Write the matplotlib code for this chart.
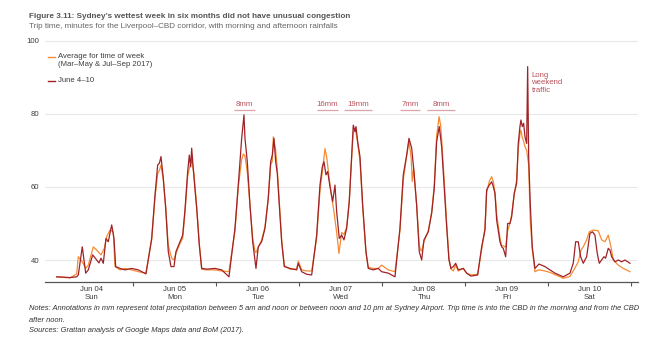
import matplotlib
matplotlib.use("Agg")
import matplotlib.pyplot as plt
from matplotlib.lines import Line2D

plt.rcParams['font.family'] = ['Liberation Sans', 'DejaVu Sans']

# ---- data: hours since Sun Jun 4 00:00, trip time in minutes ----
june_hours = [1.79, 5.64, 7.58, 8.04, 9.19, 10.18, 10.93, 12.2, 13.36, 14.02, 14.6, 15.27, 16.05, 16.71, 17.7, 18.36, 18.85,
              20.1, 21.54, 23.48, 25.39, 27.6,
              29.26, 30.22, 31.0, 31.5, 31.95, 32.62, 33.31, 34.06, 34.84, 35.71, 36.29, 37.45, 38.23, 38.89, 39.67, 40.14,
              40.54, 40.83, 41.5, 42.28, 43.03, 43.72, 45.17, 47.57, 49.5, 51.61,
              53.35, 54.3, 55.29, 55.95, 56.24, 56.91, 57.69, 58.47, 59.42, 60.09, 61.07, 62.03, 62.98, 63.67, 64.14, 64.63,
              65.12, 65.58, 66.16, 66.85, 67.61, 69.25, 71.19, 71.66, 72.64, 74.08, 75.53,
              76.97, 77.93, 78.6, 79.09, 79.66, 80.16, 80.82, 81.6, 82.27, 82.76, 83.51, 84.2, 84.87, 85.65, 86.4, 87.1, 87.56,
              88.05, 88.34, 88.83, 89.5, 90.28, 91.23, 91.9, 93.34, 94.79, 95.77, 97.68, 99.62,
              101.06, 102.02, 103.0, 103.67, 104.45, 105.11, 105.89, 106.64, 107.34, 108.0, 109.25, 110.23, 110.98, 111.67,
              112.43, 113.12, 113.78, 114.57, 115.23, 115.81, 116.48, 117.17, 117.92, 119.37, 120.35, 121.6, 123.53,
              124.69, 125.64, 126.13, 126.89, 127.58, 128.04, 128.54, 129.03, 129.98, 130.47, 130.93, 131.63, 132.21, 132.87,
              133.36, 134.11, 134.81, 135.27, 135.76, 136.05, 136.43, 136.83, 137.21, 137.7, 137.99, 138.28, 138.74, 139.32,
              140.1, 141.26, 142.99, 144.44, 145.88, 148.29,
              150.22, 151.17, 151.87, 152.62, 153.31, 154.07, 155.05, 156.0, 156.79, 157.45, 158.12, 158.7, 159.39, 160.05,
              160.54, 161.3, 161.79, 162.28, 163.24, 164.19, 165.17, 166.13, 167.57]
june_minutes = [35.4, 35.2, 35.4, 35.9, 43.6, 36.4, 37.3, 41.4, 40.0, 39.2, 40.5, 39.1, 45.9, 45.0, 49.6, 45.9, 38.2,
                37.7, 37.3, 37.7, 37.3, 36.2,
                45.9, 57.8, 66.0, 66.5, 68.3, 62.4, 54.2, 42.3, 38.2, 38.2, 42.3, 45.0, 46.8, 53.7, 64.2, 68.7,
                65.5, 70.6, 62.4, 54.1, 44.1, 37.7, 37.5, 37.7, 37.3, 35.4,
                48.7, 60.5, 73.3, 79.7, 73.3, 66.9, 55.0, 45.0, 37.7, 43.6, 45.0, 48.7, 56.9, 66.9, 68.7, 73.3,
                66.9, 63.7, 55.0, 45.0, 38.2, 37.7, 37.3, 39.1, 36.8, 36.1, 35.9,
                46.8, 60.5, 65.5, 66.9, 63.3, 64.2, 60.1, 56.0, 60.5, 53.2, 45.9, 46.8, 45.5, 48.7, 56.0, 68.7, 76.9,
                75.1, 76.5, 72.4, 68.3, 55.0, 42.3, 37.7, 37.3, 37.7, 36.8, 36.4, 35.4,
                48.7, 63.3, 68.7, 73.3, 70.6, 64.2, 55.0, 42.3, 40.0, 45.5, 47.7, 52.8, 59.6, 72.4,
                76.5, 71.0, 61.0, 49.1, 40.0, 37.7, 38.2, 39.1, 37.3, 37.7, 36.4, 35.6, 35.9,
                43.6, 48.2, 59.2, 60.5, 61.4, 60.1, 58.2, 50.9, 45.0, 43.6, 43.2, 40.9, 50.0, 50.0,
                51.8, 58.2, 61.0, 71.9, 76.5, 78.3, 76.5, 77.4, 73.7, 71.9, 92.9, 68.3, 55.5, 43.6,
                37.7, 38.9, 38.2, 37.3, 36.4, 35.4,
                36.4, 39.1, 45.0, 45.0, 40.9, 39.1, 40.9, 47.3, 47.7, 46.8, 41.8, 39.1, 40.0, 40.9,
                40.5, 43.2, 42.7, 40.9, 39.5, 40.0, 39.5, 40.0, 39.1]

avg_hours = [1.79, 5.64, 7.58, 8.04, 9.19, 10.18, 10.93, 12.37, 13.36, 14.6, 15.56, 16.25, 17.2, 18.16, 18.65, 20.1, 21.54,
             23.48, 25.39, 27.6,
             29.26, 30.22, 31.0, 31.5, 31.95, 32.62, 33.31, 34.06, 35.04, 35.71, 36.29, 37.45, 38.23, 38.89, 39.67, 40.14,
             40.54, 40.83, 41.5, 42.28, 43.03, 43.72, 45.17, 47.57, 49.5, 51.61,
             53.35, 54.3, 55.29, 55.76, 56.24, 56.91, 57.69, 58.47, 59.13, 59.42, 60.09, 61.07, 62.03, 62.98, 63.67, 64.14,
             64.43, 65.12, 65.58, 66.16, 66.85, 67.61, 69.25, 71.19, 71.66, 72.64, 74.08, 75.53,
             76.97, 77.93, 78.6, 79.38, 79.9, 80.5, 81.2, 82.0, 82.76, 83.42, 84.2, 84.87, 85.65, 86.4, 87.1, 87.56, 88.05,
             88.34, 88.83, 89.5, 90.28, 91.23, 91.9, 93.34, 94.79, 95.77, 97.68, 99.62,
             101.06, 102.02, 103.0, 103.67, 104.3, 104.6, 105.0, 105.89, 106.64, 107.0, 107.34, 108.0, 109.25, 110.23,
             110.98, 111.67, 112.38, 112.8, 113.12, 113.78, 114.57, 115.23, 115.81, 116.48, 117.17, 117.92, 119.37, 120.35,
             121.6, 123.53,
             124.69, 125.64, 126.13, 126.89, 127.58, 128.04, 128.54, 129.03, 129.98, 130.47, 130.93, 131.63, 132.21, 132.87,
             133.36, 134.11, 134.81, 135.27, 135.76, 136.05, 136.43, 136.83, 137.21, 137.7, 137.99, 138.28, 138.74, 138.99,
             139.32, 140.1, 141.26, 142.99, 144.44, 145.88, 148.29,
             150.22, 151.6, 152.62, 153.4, 154.07, 155.05, 155.8, 156.96, 158.4, 159.39, 160.34, 161.3, 162.08, 162.75,
             164.19, 165.63, 167.57]
avg_minutes = [35.4, 35.1, 36.2, 40.9, 39.5, 37.7, 38.6, 43.6, 42.7, 41.4, 43.2, 46.4, 48.2, 47.7, 38.2, 37.3, 37.7,
               37.3, 36.8, 36.4,
               45.5, 57.0, 63.7, 64.5, 66.0, 62.0, 54.5, 44.0, 40.5, 40.0, 41.9, 44.5, 46.0, 53.0, 63.0, 65.0,
               66.5, 67.5, 63.5, 54.5, 44.5, 37.5, 37.3, 37.3, 37.0, 36.8,
               48.0, 60.0, 67.5, 69.0, 68.5, 64.0, 55.0, 46.0, 42.3, 42.0, 43.5, 45.5, 49.0, 57.0, 66.0, 67.0,
               73.7, 70.0, 65.0, 56.0, 45.5, 38.5, 37.5, 37.5, 39.7, 37.3, 37.0, 37.0,
               46.0, 59.0, 64.0, 70.5, 68.0, 63.0, 58.0, 53.0, 47.5, 41.8, 47.5, 47.0, 49.0, 56.0, 68.0, 75.0, 76.0,
               75.0, 72.0, 67.0, 54.5, 42.0, 38.0, 37.7, 37.7, 38.6, 37.3, 36.8,
               48.0, 62.0, 68.5, 72.5, 68.0, 61.5, 65.0, 55.0, 44.0, 42.7, 42.5, 45.0, 48.0, 53.0,
               60.5, 74.0, 79.2, 77.0, 73.0, 63.0, 50.0, 40.5, 37.5, 37.0, 38.6, 37.0, 37.7, 36.4,
               35.9, 36.1,
               43.0, 48.5, 58.5, 61.5, 62.8, 61.5, 58.5, 52.5, 46.0, 43.9, 43.9, 43.5, 48.0, 50.0,
               52.5, 58.0, 62.0, 70.5, 74.5, 75.5, 73.5, 72.5, 71.0, 70.0, 68.0, 66.0, 50.9, 47.3,
               43.0, 36.8, 37.3, 37.0, 36.6, 36.0, 35.0,
               35.5, 37.7, 39.5, 42.7, 43.6, 45.5, 47.7, 48.2, 48.0, 45.5, 45.0, 46.8, 43.6, 40.0,
               38.6, 37.7, 36.8]

day_labels = ["Jun 04\nSun", "Jun 05\nMon", "Jun 06\nTue", "Jun 07\nWed", "Jun 08\nThu", "Jun 09\nFri", "Jun 10\nSat"]
y_ticks = [40, 60, 80, 100]

rain_labels = ["8mm", "16mm", "19mm", "7mm", "8mm"]
rain_start = [53, 77, 85, 101, 109]
rain_end = [59, 83, 93, 107, 117]

ORANGE = "#F68B33"
RED = "#A02226"
ANN = "#B8525C"
ANN_LINE = "#DDA3AA"
GRID = "#E8E8E8"
TXT = "#3C3C3C"

fig = plt.figure(figsize=(6.6, 3.51), dpi=100)
ax = fig.add_axes([45 / 660, 1 - 282.3 / 351, (638 - 45) / 660, (282.3 - 39.6) / 351])

ax.plot(avg_hours, avg_minutes, color=ORANGE, lw=0.9, zorder=3)
ax.plot(june_hours, june_minutes, color=RED, lw=0.9, zorder=4)

ax.set_xlim(-1.59, 169.9)
ax.set_ylim(33.9, 100.3)

for s in ["left", "right", "top"]:
    ax.spines[s].set_visible(False)
ax.spines["bottom"].set_color("#555555")
ax.spines["bottom"].set_linewidth(0.9)

ax.set_yticks(y_ticks)
ax.set_yticklabels([str(v) for v in y_ticks])
ax.tick_params(axis="y", length=0, pad=4, labelsize=5.6, labelcolor=TXT)
ax.yaxis.grid(True, color=GRID, lw=0.8)
ax.set_axisbelow(True)

ax.set_xticks([24 * k for k in range(1, 8)])
ax.set_xticklabels([])
ax.set_xticks([12 + 24 * k for k in range(7)], minor=True)
ax.set_xticklabels(day_labels, minor=True)
ax.tick_params(axis="x", which="major", length=3, color="#555555", width=0.8)
ax.tick_params(axis="x", which="minor", length=0, pad=3, labelsize=5.6, labelcolor=TXT)
for lbl in ax.get_xticklabels(minor=True):
    lbl.set_linespacing(1.15)

# rain annotations
for lab, s, e in zip(rain_labels, rain_start, rain_end):
    ax.plot([s, e], [81.0, 81.0], color=ANN_LINE, lw=0.9, solid_capstyle="butt", zorder=2)
    ax.text((s + e) / 2, 82.0, lab, ha="center", va="baseline", fontsize=5.6, color=ANN)

ax.text(139.1, 91.4, "Long\nweekend\ntraffic", ha="left", va="top", fontsize=5.6, color=ANN, linespacing=1.05)

# legend (manual)
fig.add_artist(Line2D([48.3 / 660, 55 / 660], [1 - 57.3 / 351] * 2, color=ORANGE, lw=1.0))
fig.text(57.7 / 660, 1 - 53.5 / 351, "Average for time of week\n(Mar\u2013May & Jul\u2013Sep 2017)", ha="left", va="top",
         fontsize=5.6, color=TXT, linespacing=1.05)
fig.add_artist(Line2D([48.3 / 660, 55 / 660], [1 - 80.7 / 351] * 2, color=RED, lw=1.0))
fig.text(57.7 / 660, 1 - 80.7 / 351, "June 4\u201310", ha="left", va="center", fontsize=5.6, color=TXT)

# titles
fig.text(29 / 660, 1 - 16 / 351, "Figure 3.11: Sydney\u2019s wettest week in six months did not have unusual congestion",
         ha="left", va="center", fontsize=5.85, fontweight="bold", color="#555555")
fig.text(29 / 660, 1 - 26 / 351, "Trip time, minutes for the Liverpool\u2013CBD corridor, with morning and afternoon rainfalls",
         ha="left", va="center", fontsize=5.85, color="#666666")

# notes
NOTE_FS = 5.4
fig.text(29 / 660, 1 - 309 / 351,
         "Notes: Annotations in mm represent total precipitation between 5 am and noon or between noon and 10 pm at Sydney "
         "Airport. Trip time is into the CBD in the morning and from the CBD",
         ha="left", va="center", fontsize=NOTE_FS, style="italic", color="#333333")
fig.text(29 / 660, 1 - 320 / 351, "after noon.", ha="left", va="center", fontsize=NOTE_FS, style="italic", color="#333333")
fig.text(29 / 660, 1 - 331 / 351, "Sources: Grattan analysis of Google Maps data and BoM (2017).",
         ha="left", va="center", fontsize=NOTE_FS, style="italic", color="#333333")

fig.savefig("out.png", dpi=100, facecolor="white")
